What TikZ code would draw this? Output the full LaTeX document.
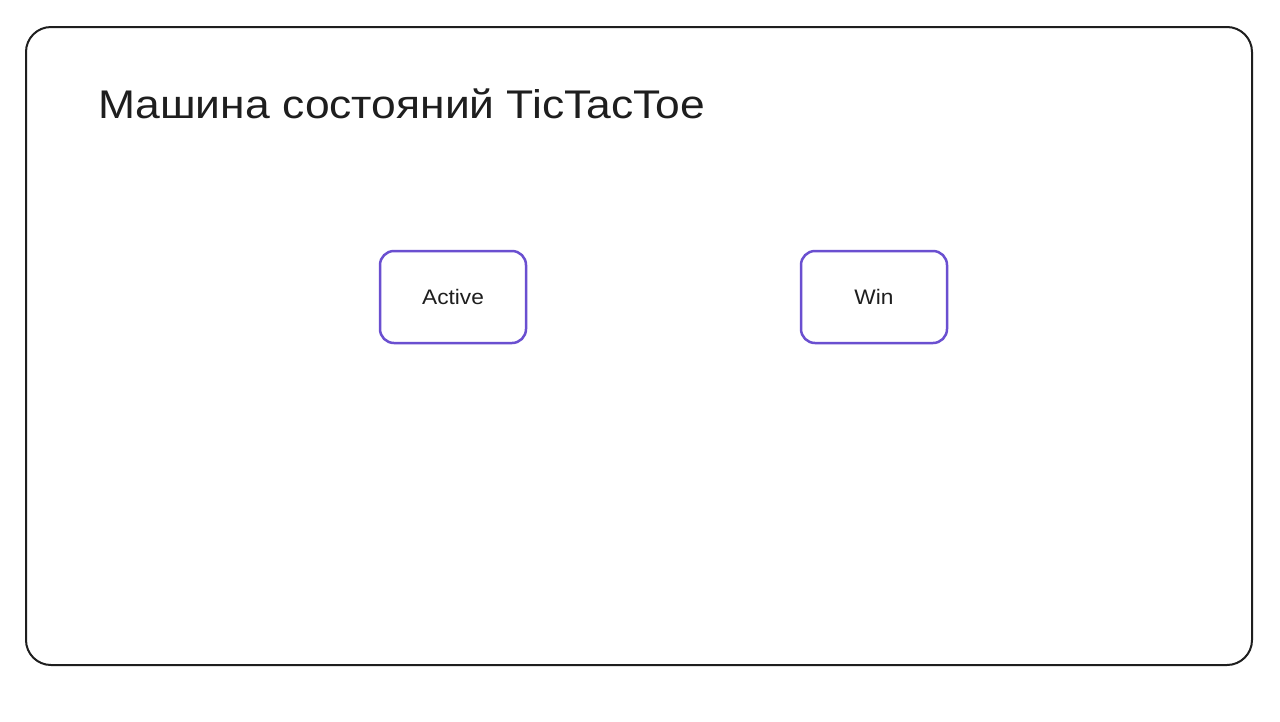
\documentclass[tikz,border=0pt]{standalone}
\usepackage{fontspec}
\setmainfont{Liberation Sans}
\newfontfamily\widefont[FakeStretch=1.11]{Liberation Sans}
\newfontfamily\nodefont[FakeStretch=1.08]{Liberation Sans}
\definecolor{statecol}{HTML}{6A4FD0}
\definecolor{inkcol}{HTML}{1E1E1E}
\begin{document}
\begin{tikzpicture}[x=1pt,y=-1pt,
  frame/.style={draw=inkcol, line width=2pt, rounded corners=25pt},
  statebox/.style={draw=statecol, line width=2.5pt, rounded corners=14pt, minimum width=146pt, minimum height=92pt, text=inkcol, font=\nodefont\fontsize{21}{25}\selectfont},
  titletext/.style={anchor=base west, text=inkcol, inner sep=0pt, font=\widefont\fontsize{40}{47}\selectfont}]
\useasboundingbox (0,0) rectangle (1280,721);
\fill[white] (0,0) rectangle (1280,721);
\draw[frame] (26,27) rectangle (1252,665);
\node[titletext] (title) at (98,118) {Машина состояний TicTacToe};
\node[statebox] (active) at (453,297) {Active};
\node[statebox] (win) at (874,297) {Win};
\end{tikzpicture}
\end{document}
